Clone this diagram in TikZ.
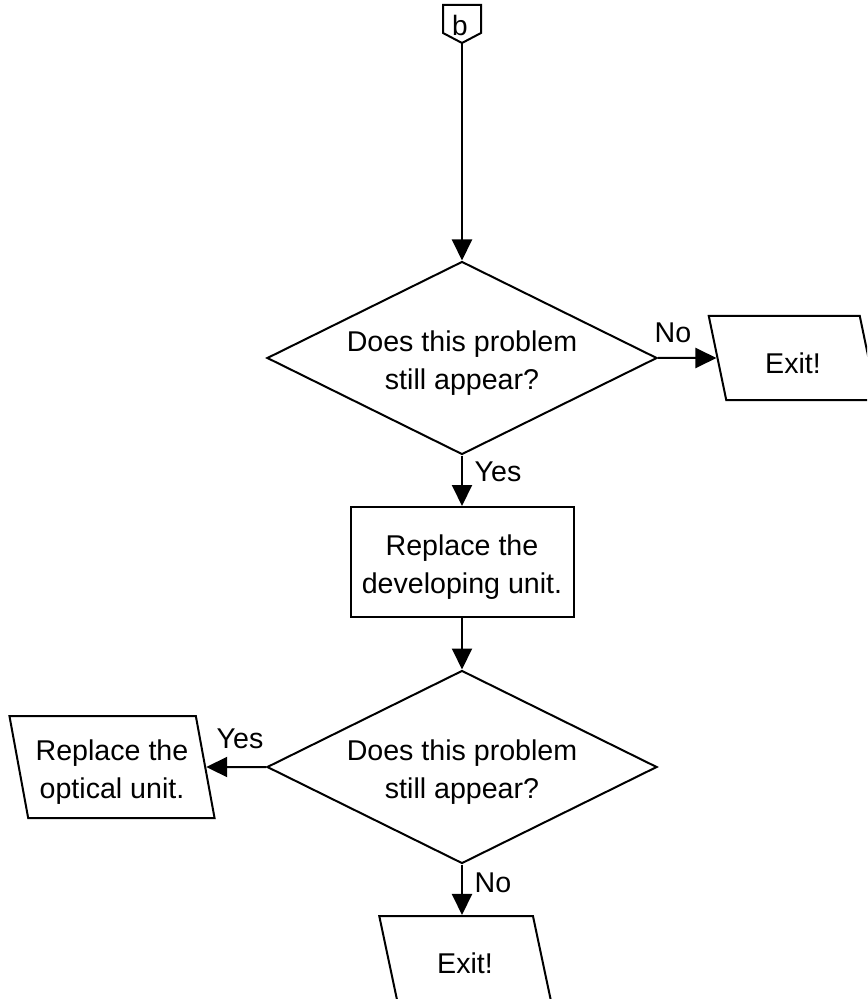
\documentclass[tikz,border=0pt]{standalone}
\usepackage{fontspec}
\setmainfont{Liberation Sans}
\usetikzlibrary{arrows.meta, positioning, shapes.geometric}
\newcommand{\lowtext}{\rule{0pt}{15.5pt}}

\begin{document}
\begin{tikzpicture}[x=0.5pt, y=-0.5pt, line width=1pt,
      every node/.style={font=\fontsize{14.3}{19}\selectfont},
      ask/.style={draw, diamond, aspect=2, inner sep=0pt, align=center,
                  minimum width=195pt, minimum height=96.5pt},
      todo/.style={draw, rectangle, inner sep=1pt, align=center,
                   minimum width=111.5pt, minimum height=55pt},
      io/.style={draw, trapezium, trapezium left angle=102.5,
                 trapezium right angle=77.5, trapezium stretches=true,
                 inner sep=1pt, align=center, minimum height=42pt},
      arr/.style={-{Triangle[length=10.5pt, width=10pt]}}]
    \useasboundingbox (0,0) rectangle (867,999);
    \clip (0,0) rectangle (867,999);
    % off-page connector
    \draw (443,5) -- (481,5) -- (481,33) -- (462,43) -- (443,33) -- cycle;
    \node[font=\fontsize{14}{16}\selectfont] (conn) at (460,25) {b};
    \coordinate (connbot) at (462,43);
    \node[ask] (q1) at (462,358) {\lowtext Does this problem\\still appear?};
    \node[io, minimum width=84.5pt] (exit1) at (793,358) {\lowtext Exit!};
    \node[todo] (devunit) at (462,562) {\lowtext Replace the\\developing unit.};
    \node[ask] (q2) at (462,767) {\lowtext Does this problem\\still appear?};
    \node[io, minimum width=103pt, minimum height=51pt] (optic) at (112,767) {\lowtext Replace the\\optical unit.};
    \node[io, minimum width=86pt] (exit2) at (465,958) {\lowtext Exit!};
    \draw[arr] (connbot) -- (q1.north);
    \draw[arr] (q1.east) -- (exit1.west);
    \draw[arr] (q1.south) -- (devunit.north);
    \draw[arr] (devunit.south) -- (q2.north);
    \draw[arr] (q2.west) -- (optic.east);
    \draw[arr] (q2.south) -- (q2.south |- exit2.north);
    % branch labels
    \node (no1)  at (673,333) {No};
    \node (yes1) at (498,472) {Yes};
    \node (yes2) at (240,739) {Yes};
    \node (no2)  at (493,883) {No};
  \end{tikzpicture}
\end{document}
